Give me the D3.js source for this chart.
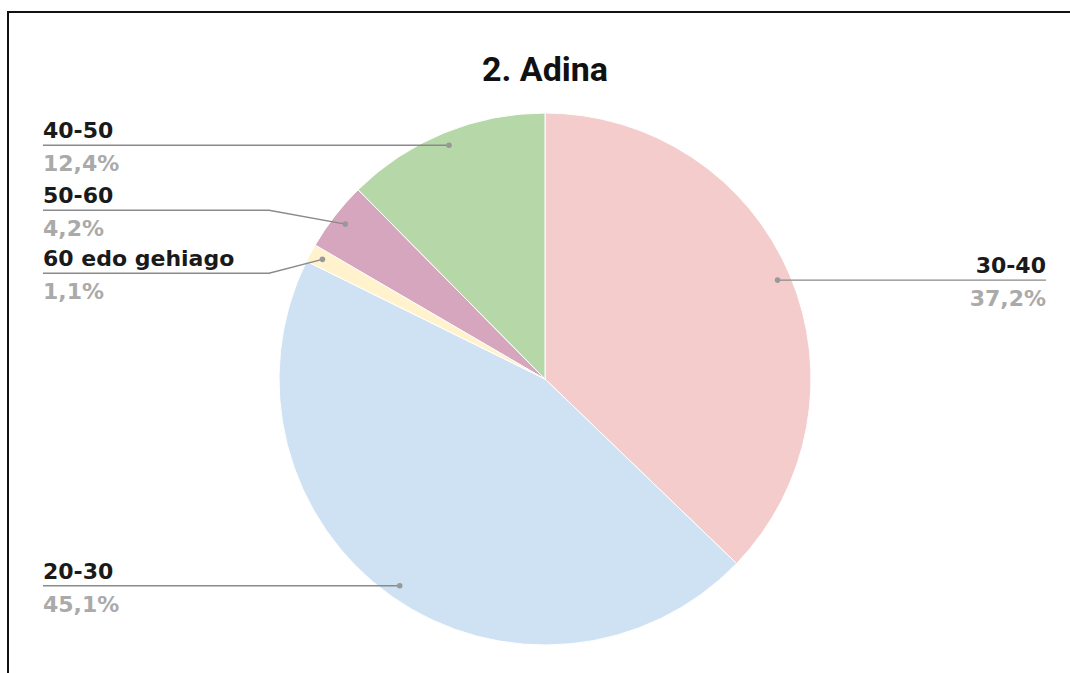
<!DOCTYPE html>
<html>
<head>
<meta charset="utf-8">
<script src="https://cdn.jsdelivr.net/npm/d3@7"></script>
<style>
  body { margin: 0; background: #fff; }
</style>
</head>
<body>
<div id="chart"></div>
<script>
// slices in clockwise order from 12 o'clock
const categories = ["30-40", "20-30", "60 edo gehiago", "50-60", "40-50"];
const values = [37.2, 45.1, 1.1, 4.2, 12.4];
const colors = ["#f4cccc", "#cfe2f3", "#fff2cc", "#d5a6bd", "#b6d7a8"];
const title = "2. Adina";

const width = 1070, height = 673;
const cx = 545, cy = 379, radius = 266;
const labelFont = "'DejaVu Sans', Verdana, sans-serif";

let svg = d3.select("#chart").append("svg")
    .attr("width", width)
    .attr("height", height);

// frame (right and bottom edges fall outside the picture)
svg.append("rect")
    .attr("x", 8).attr("y", 12)
    .attr("width", 1100).attr("height", 720)
    .attr("fill", "none")
    .attr("stroke", "#111")
    .attr("stroke-width", 2);

svg.append("text")
    .attr("x", cx).attr("y", 81)
    .attr("text-anchor", "middle")
    .attr("font-family", "Roboto, sans-serif")
    .attr("font-weight", "bold")
    .attr("font-size", 34)
    .attr("fill", "#111")
    .text(title);

//=================================================
// Pie
//=================================================
let data = categories.map((c, i) => ({ name: c, value: values[i], color: colors[i] }));
let pie = d3.pie().sort(null).value(d => d.value);
let arcs = pie(data);
let arc = d3.arc().innerRadius(0).outerRadius(radius);
let anchorArc = d3.arc().innerRadius(radius * 0.95).outerRadius(radius * 0.95);

let g = svg.append("g").attr("transform", "translate(" + cx + "," + cy + ")");
g.selectAll("path.slice")
    .data(arcs)
    .enter().append("path")
    .attr("class", "slice")
    .attr("d", arc)
    .attr("fill", d => d.data.color)
    .attr("stroke", "#fff")
    .attr("stroke-width", 1);

//=================================================
// Labels (de-overlap per side)
//=================================================
let fmt = v => d3.format(".1f")(v).replace(".", ",") + "%";
let labels = arcs.map(a => {
    let p = anchorArc.centroid(a);
    let mid = (a.startAngle + a.endAngle) / 2;
    return { a: a, px: cx + p[0], py: cy + p[1], side: mid < Math.PI ? "right" : "left", y: cy + p[1] };
});

const gap = 63;
["left", "right"].forEach(side => {
    let list = labels.filter(l => l.side === side).sort((a, b) => a.y - b.y);
    for (let iter = 0; iter < 50; iter++) {
        let moved = false;
        for (let i = 1; i < list.length; i++) {
            let d = list[i].y - list[i - 1].y;
            if (d < gap) {
                let push = (gap - d) / 2;
                list[i - 1].y -= push;
                list[i].y += push;
                moved = true;
            }
        }
        if (!moved) break;
    }
});

let lab = svg.append("g");
labels.forEach(l => {
    let left = l.side === "left";
    let textX = left ? 43 : 1046;
    let bendX = left ? cx - radius - 10 : cx + radius + 10;
    let pts = left
        ? [[textX, l.y], [Math.min(bendX, l.px), l.y], [l.px, l.py]]
        : [[textX, l.y], [Math.max(bendX, l.px), l.y], [l.px, l.py]];
    lab.append("path")
        .attr("d", d3.line()(pts))
        .attr("fill", "none")
        .attr("stroke", "#8a8a8a")
        .attr("stroke-width", 1.3);
    lab.append("circle")
        .attr("cx", l.px).attr("cy", l.py)
        .attr("r", 2.8)
        .attr("fill", "#999");
    lab.append("text")
        .attr("x", textX).attr("y", l.y - 7)
        .attr("text-anchor", left ? "start" : "end")
        .attr("font-family", labelFont)
        .attr("font-weight", "bold")
        .attr("font-size", 22)
        .attr("fill", "#1a1a1a")
        .text(l.a.data.name);
    lab.append("text")
        .attr("x", textX).attr("y", l.y + 26)
        .attr("text-anchor", left ? "start" : "end")
        .attr("font-family", labelFont)
        .attr("font-weight", "bold")
        .attr("font-size", 22)
        .attr("fill", "#aaaaaa")
        .text(fmt(l.a.data.value));
});
</script>
</body>
</html>
